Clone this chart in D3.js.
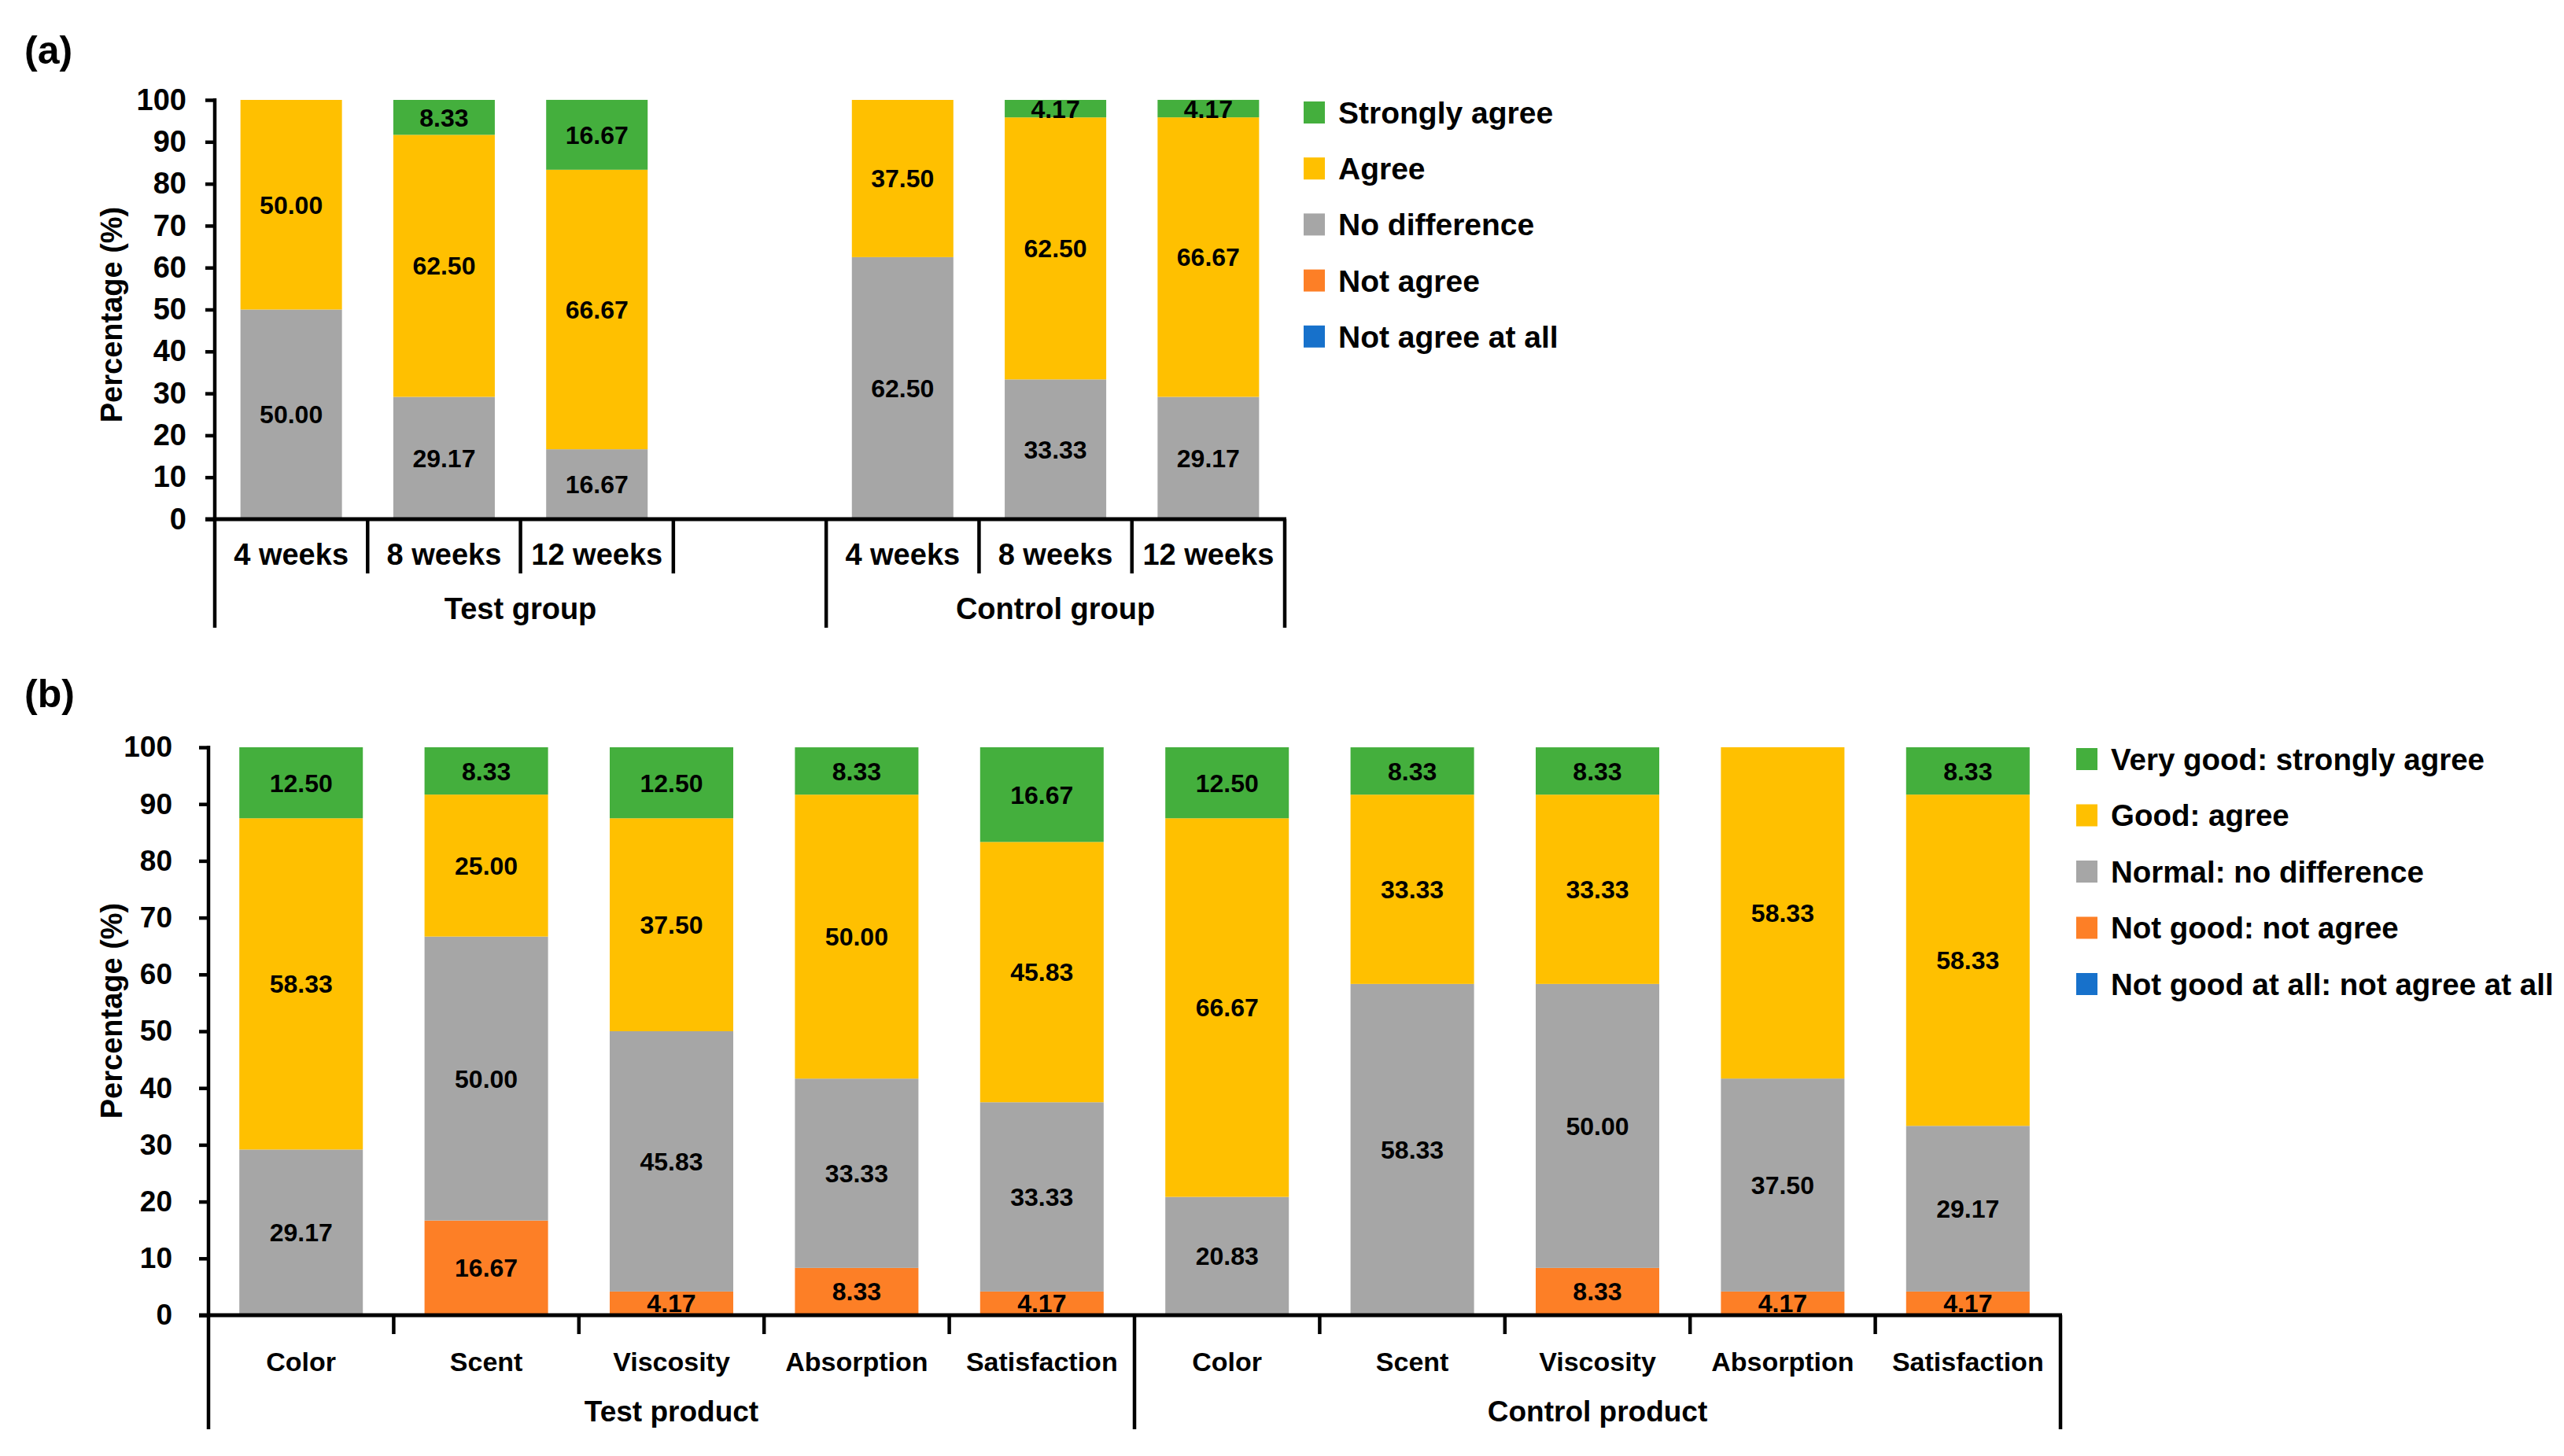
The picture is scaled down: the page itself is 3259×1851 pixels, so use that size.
<!DOCTYPE html>
<html><head><meta charset="utf-8">
<script src="https://cdn.jsdelivr.net/npm/d3@7"></script>
<style>
body{margin:0;background:#fff}
text{font-family:"Liberation Sans",Arial,Helvetica,sans-serif;font-weight:bold;fill:#000}
</style>
</head><body>
<svg id="c" width="3259" height="1851" xmlns="http://www.w3.org/2000/svg"></svg>
<script>
// ---------- Panel (a) data ----------
const periodsA = ["4 weeks", "8 weeks", "12 weeks", "4 weeks", "8 weeks", "12 weeks"];
const groupsA = ["Test group", "Control group"];
const seriesA = ["Strongly agree", "Agree", "No difference", "Not agree", "Not agree at all"];
const stronglyAgreeA = [0, 8.33, 16.67, 0, 4.17, 4.17];
const agreeA = [50.00, 62.50, 66.67, 37.50, 62.50, 66.67];
const noDifferenceA = [50.00, 29.17, 16.67, 62.50, 33.33, 29.17];
const notAgreeA = [0, 0, 0, 0, 0, 0];
const notAgreeAtAllA = [0, 0, 0, 0, 0, 0];

// ---------- Panel (b) data ----------
const itemsB = ["Color", "Scent", "Viscosity", "Absorption", "Satisfaction",
                "Color", "Scent", "Viscosity", "Absorption", "Satisfaction"];
const groupsB = ["Test product", "Control product"];
const seriesB = ["Very good: strongly agree", "Good: agree", "Normal: no difference",
                 "Not good: not agree", "Not good at all: not agree at all"];
const veryGoodB = [12.50, 8.33, 12.50, 8.33, 16.67, 12.50, 8.33, 8.33, 0, 8.33];
const goodB = [58.33, 25.00, 37.50, 50.00, 45.83, 66.67, 33.33, 33.33, 58.33, 58.33];
const normalB = [29.17, 50.00, 45.83, 33.33, 33.33, 20.83, 58.33, 50.00, 37.50, 29.17];
const notGoodB = [0, 16.67, 4.17, 8.33, 4.17, 0, 0, 8.33, 4.17, 4.17];
const notGoodAtAllB = [0, 0, 0, 0, 0, 0, 0, 0, 0, 0];

const yTickValues = [0, 10, 20, 30, 40, 50, 60, 70, 80, 90, 100];
const seriesColors = ["#44AF3D", "#FFC000", "#A6A6A6", "#FD7F26", "#1771CB"];

const svg = d3.select("#c");
svg.append("rect").attr("width", 3259).attr("height", 1851).attr("fill", "#fff");

function drawPanel(o) {
  const g = svg.append("g");
  const nSlots = o.nSlots;
  const x = d3.scaleBand().domain(d3.range(nSlots)).range([o.x0, o.x1])
    .paddingInner(o.pad).paddingOuter(o.pad / 2);
  const y = d3.scaleLinear().domain([0, 100]).range([o.yBottom, o.yTop]);
  const step = x.step();
  const lw = 4.5;

  // stacked data (bottom first = last series)
  const nSer = o.values.length;
  const keys = d3.range(nSer).reverse();
  const rows = o.categories.map((c, i) => {
    const r = {i: i};
    keys.forEach(k => r[k] = o.values[k][i]);
    return r;
  });
  const stacked = d3.stack().keys(keys)(rows);

  stacked.forEach(layer => {
    const k = layer.key;
    g.append("g").selectAll("rect").data(layer).join("rect")
      .attr("x", d => x(o.slotOf(d.data.i)))
      .attr("width", x.bandwidth())
      .attr("y", d => y(d[1]))
      .attr("height", d => y(d[0]) - y(d[1]))
      .attr("fill", seriesColors[k]);
  });
  // value labels
  stacked.forEach(layer => {
    g.append("g").selectAll("text").data(layer.filter(d => d[1] - d[0] > 0)).join("text")
      .attr("x", d => x(o.slotOf(d.data.i)) + x.bandwidth() / 2)
      .attr("y", d => (y(d[0]) + y(d[1])) / 2)
      .attr("dy", "0.36em")
      .attr("text-anchor", "middle")
      .style("font-size", o.valueFont + "px")
      .text(d => d3.format(".2f")(d[1] - d[0]));
  });

  // y axis
  const ax = d3.axisLeft(y).tickValues(yTickValues).tickSize(12).tickPadding(o.tickPad).tickSizeOuter(0);
  const axg = g.append("g").attr("transform", `translate(${o.x0},0)`).call(ax);
  axg.select(".domain").remove();
  axg.selectAll(".tick line").attr("stroke", "#000").attr("stroke-width", lw);
  axg.selectAll(".tick text").style("font-size", o.tickFont + "px")
    .style("font-family", '"Liberation Sans",Arial,sans-serif').style("font-weight", "bold")
    .attr("fill", "#000");

  // vertical axis line (continues down to bottom of group bracket)
  g.append("line").attr("x1", o.x0).attr("x2", o.x0)
    .attr("y1", o.yTop - 2).attr("y2", o.longBottom)
    .attr("stroke", "#000").attr("stroke-width", lw);
  // horizontal axis line
  g.append("line").attr("x1", o.x0 - 12).attr("x2", o.x1 + 2)
    .attr("y1", o.yBottom).attr("y2", o.yBottom)
    .attr("stroke", "#000").attr("stroke-width", lw + 0.5);

  // separators
  o.shortSeps.forEach(s => {
    g.append("line").attr("x1", o.x0 + s * step).attr("x2", o.x0 + s * step)
      .attr("y1", o.yBottom).attr("y2", o.shortBottom)
      .attr("stroke", "#000").attr("stroke-width", lw);
  });
  o.longSeps.forEach(s => {
    g.append("line").attr("x1", o.x0 + s * step).attr("x2", o.x0 + s * step)
      .attr("y1", o.yBottom).attr("y2", o.longBottom)
      .attr("stroke", "#000").attr("stroke-width", lw);
  });

  // category labels
  g.append("g").selectAll("text").data(o.categories).join("text")
    .attr("x", (d, i) => x(o.slotOf(i)) + x.bandwidth() / 2)
    .attr("y", o.catBaseline)
    .attr("text-anchor", "middle")
    .style("font-size", o.catFont + "px")
    .text(d => d);

  // group labels
  g.append("g").selectAll("text").data(o.groups).join("text")
    .attr("x", (d, i) => o.x0 + (o.groupSpans[i][0] + o.groupSpans[i][1]) / 2 * step)
    .attr("y", o.groupBaseline)
    .attr("text-anchor", "middle")
    .style("font-size", o.groupFont + "px")
    .text(d => d);

  // y axis title
  g.append("text")
    .attr("transform", `translate(${o.titleX},${o.titleY}) rotate(-90)`)
    .attr("text-anchor", "middle")
    .style("font-size", "38px")
    .text("Percentage (%)");

  // panel letter
  g.append("text").attr("x", 31).attr("y", o.letterY)
    .style("font-size", "50px").text(o.letter);

  // legend
  const lg = g.append("g");
  o.seriesNames.forEach((name, k) => {
    const cy = o.legY + k * o.legStep;
    lg.append("rect").attr("x", o.legX).attr("y", cy - 14).attr("width", 27).attr("height", 28)
      .attr("fill", seriesColors[k]);
    lg.append("text").attr("x", o.legX + 44).attr("y", cy).attr("dy", "0.36em")
      .style("font-size", o.legFont + "px").text(name);
  });
}

drawPanel({
  letter: "(a)", letterY: 81,
  categories: periodsA, groups: groupsA, seriesNames: seriesA,
  values: [stronglyAgreeA, agreeA, noDifferenceA, notAgreeA, notAgreeAtAllA],
  nSlots: 7, slotOf: i => (i < 3 ? i : i + 1), pad: 0.336,
  x0: 273, x1: 1633, yTop: 127, yBottom: 660,
  shortSeps: [1, 2, 3, 5, 6], longSeps: [4, 7], shortBottom: 729, longBottom: 798,
  groupSpans: [[0, 4], [4, 7]],
  catBaseline: 718, catFont: 38, groupBaseline: 787, groupFont: 38,
  tickFont: 38, tickPad: 24, valueFont: 32,
  titleX: 155, titleY: 400,
  legX: 1657, legY: 143, legStep: 71.2, legFont: 39
});

drawPanel({
  letter: "(b)", letterY: 899,
  categories: itemsB, groups: groupsB, seriesNames: seriesB,
  values: [veryGoodB, goodB, normalB, notGoodB, notGoodAtAllB],
  nSlots: 10, slotOf: i => i, pad: 0.333,
  x0: 265, x1: 2619, yTop: 950, yBottom: 1672,
  shortSeps: [1, 2, 3, 4, 6, 7, 8, 9], longSeps: [5, 10], shortBottom: 1696, longBottom: 1817,
  groupSpans: [[0, 5], [5, 10]],
  catBaseline: 1743, catFont: 34, groupBaseline: 1807, groupFont: 37,
  tickFont: 37, tickPad: 34, valueFont: 32,
  titleX: 155, titleY: 1285,
  legX: 2639, legY: 965, legStep: 71.5, legFont: 38.5
});
</script>
</body></html>
